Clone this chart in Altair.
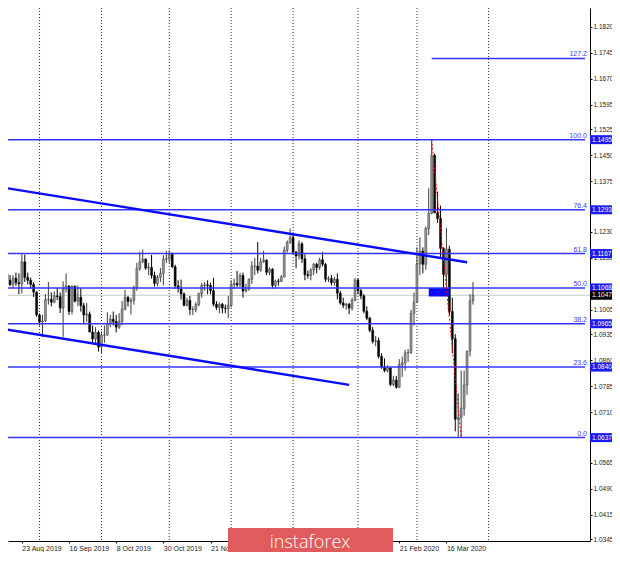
import altair as alt
import pandas as pd

# ---------------- data (EURUSD daily candles) ----------------
first_index = -6   # bar index of the first candle (0 = 23 Aug 2019)

opens = [1.1140, 1.1107, 1.1090, 1.1078, 1.1096, 1.1083,
         1.1080, 1.1143, 1.1098, 1.1090, 1.1078, 1.1056,
         1.0990, 1.0970, 1.0973, 1.1034, 1.1035,
         1.1027, 1.1045, 1.1043, 1.1010, 1.1065,
         1.1074, 1.1000, 1.1073, 1.1030, 1.1041,
         1.1017, 1.0990, 1.0993, 1.0941, 1.0921,
         1.0940, 1.0898, 1.0932, 1.0933, 1.0966,
         1.0978, 1.0971, 1.0955, 1.0972, 1.1007,
         1.1041, 1.1029, 1.1032, 1.1069, 1.1124,
         1.1143, 1.1151, 1.1125, 1.1127, 1.1104,
         1.1081, 1.1099, 1.1110, 1.1151, 1.1152,
         1.1165, 1.1129, 1.1074, 1.1066, 1.1051,
         1.1018, 1.1032, 1.1006, 1.1006, 1.1020,
         1.1051, 1.1075, 1.1077, 1.1075, 1.1060,
         1.1021, 1.1012, 1.1021, 1.1010, 1.1009,
         1.1018, 1.1078, 1.1081, 1.1077, 1.1104,
         1.1059, 1.1064, 1.1093, 1.1131, 1.1131,
         1.1119, 1.1143, 1.1148, 1.1113, 1.1122,
         1.1075, 1.1088, 1.1087, 1.1100, 1.1177,
         1.1199, 1.1213, 1.1171, 1.1160, 1.1195,
         1.1152, 1.1106, 1.1104, 1.1120, 1.1136,
         1.1127, 1.1149, 1.1136, 1.1093, 1.1095,
         1.1083, 1.1093, 1.1053, 1.1025, 1.1018,
         1.1021, 1.1010, 1.1032, 1.1091, 1.1060,
         1.1045, 1.1001, 1.0981, 1.0946, 1.0914,
         1.0916, 1.0871, 1.0840, 1.0830, 1.0838,
         1.0790, 1.0803, 1.0782, 1.0847, 1.0852,
         1.0881, 1.0882, 1.0995, 1.1027, 1.1137,
         1.1174, 1.1136, 1.1239, 1.1283, 1.1450,
         1.1284, 1.1268, 1.1182, 1.1107, 1.1180,
         1.1000, 1.0922, 1.0690, 1.0695, 1.0721,
         1.0789, 1.0886, 1.1031]

highs = [1.1150, 1.1115, 1.1105, 1.1105, 1.1112, 1.1110,
         1.1165, 1.1164, 1.1112, 1.1098, 1.1085, 1.1058,
         1.0995, 1.0990, 1.1050, 1.1085, 1.1055,
         1.1058, 1.1068, 1.1055, 1.1087, 1.1110,
         1.1074, 1.1075, 1.1075, 1.1075, 1.1068,
         1.1025, 1.1025, 1.1000, 1.0960, 1.0955,
         1.0945, 1.0943, 1.0960, 1.0998, 1.0990,
         1.1000, 1.0990, 1.0995, 1.1030, 1.1063,
         1.1045, 1.1040, 1.1075, 1.1140, 1.1172,
         1.1179, 1.1153, 1.1140, 1.1163, 1.1115,
         1.1105, 1.1125, 1.1162, 1.1175, 1.1176,
         1.1170, 1.1135, 1.1090, 1.1092, 1.1055,
         1.1040, 1.1045, 1.1015, 1.1027, 1.1055,
         1.1082, 1.1085, 1.1090, 1.1083, 1.1097,
         1.1030, 1.1026, 1.1025, 1.1020, 1.1045,
         1.1090, 1.1095, 1.1117, 1.1111, 1.1112,
         1.1080, 1.1095, 1.1145, 1.1155, 1.1200,
         1.1155, 1.1175, 1.1150, 1.1127, 1.1125,
         1.1092, 1.1095, 1.1105, 1.1187, 1.1205,
         1.1239, 1.1228, 1.1175, 1.1205, 1.1200,
         1.1165, 1.1118, 1.1125, 1.1140, 1.1140,
         1.1155, 1.1172, 1.1140, 1.1102, 1.1105,
         1.1100, 1.1110, 1.1060, 1.1040, 1.1025,
         1.1025, 1.1040, 1.1096, 1.1095, 1.1065,
         1.1050, 1.1015, 1.0985, 1.0955, 1.0930,
         1.0925, 1.0880, 1.0865, 1.0845, 1.0840,
         1.0815, 1.0815, 1.0863, 1.0870, 1.0890,
         1.0892, 1.1005, 1.1055, 1.1185, 1.1214,
         1.1185, 1.1245, 1.1355, 1.1495, 1.1455,
         1.1345, 1.1305, 1.1185, 1.1240, 1.1190,
         1.1040, 1.0935, 1.0765, 1.0830, 1.0830,
         1.0887, 1.1050, 1.1085]

lows = [1.1100, 1.1066, 1.1073, 1.1066, 1.1074, 1.1050,
        1.1052, 1.1085, 1.1078, 1.1065, 1.1042, 1.0985,
        1.0960, 1.0926, 1.0970, 1.1020, 1.1015,
        1.1024, 1.1033, 1.0996, 1.0927, 1.1055,
        1.0990, 1.0992, 1.1026, 1.1015, 1.1000,
        1.0965, 1.0970, 1.0940, 1.0910, 1.0905,
        1.0885, 1.0879, 1.0910, 1.0930, 1.0955,
        1.0960, 1.0940, 1.0950, 1.0960, 1.1003,
        1.1015, 1.0992, 1.1020, 1.1060, 1.1117,
        1.1140, 1.1120, 1.1105, 1.1095, 1.1072,
        1.1073, 1.1085, 1.1075, 1.1140, 1.1140,
        1.1125, 1.1065, 1.1055, 1.1035, 1.1015,
        1.1015, 1.0990, 1.0990, 1.0998, 1.1015,
        1.1040, 1.1060, 1.1050, 1.1050, 1.1015,
        1.1005, 1.0995, 1.0995, 1.0995, 1.0981,
        1.1012, 1.1065, 1.1070, 1.1070, 1.1040,
        1.1055, 1.1060, 1.1080, 1.1105, 1.1110,
        1.1115, 1.1140, 1.1105, 1.1105, 1.1066,
        1.1065, 1.1075, 1.1085, 1.1098, 1.1170,
        1.1195, 1.1165, 1.1125, 1.1150, 1.1140,
        1.1090, 1.1095, 1.1090, 1.1105, 1.1110,
        1.1120, 1.1130, 1.1085, 1.1085, 1.1075,
        1.1075, 1.1035, 1.1020, 1.1010, 1.1005,
        1.0992, 1.1003, 1.1030, 1.1050, 1.1035,
        1.0995, 1.0975, 1.0940, 1.0908, 1.0900,
        1.0865, 1.0835, 1.0825, 1.0825, 1.0785,
        1.0785, 1.0778, 1.0780, 1.0812, 1.0830,
        1.0855, 1.0878, 1.0960, 1.1025, 1.1105,
        1.1110, 1.1120, 1.1220, 1.1280, 1.1285,
        1.1255, 1.1155, 1.1055, 1.1055, 1.0990,
        1.0880, 1.0655, 1.0637, 1.0637, 1.0700,
        1.0760, 1.0871, 1.1020]

closes = [1.1107, 1.1090, 1.1078, 1.1096, 1.1083, 1.1080,
          1.1143, 1.1098, 1.1090, 1.1078, 1.1056, 1.0990,
          1.0970, 1.0973, 1.1034, 1.1035, 1.1027,
          1.1045, 1.1043, 1.1010, 1.1065, 1.1074,
          1.1000, 1.1073, 1.1030, 1.1041, 1.1017,
          1.0990, 1.0993, 1.0941, 1.0921, 1.0940,
          1.0898, 1.0932, 1.0933, 1.0966, 1.0978,
          1.0971, 1.0955, 1.0972, 1.1007, 1.1041,
          1.1029, 1.1032, 1.1069, 1.1124, 1.1143,
          1.1151, 1.1125, 1.1127, 1.1104, 1.1081,
          1.1099, 1.1110, 1.1151, 1.1152, 1.1165,
          1.1129, 1.1074, 1.1066, 1.1051, 1.1018,
          1.1032, 1.1006, 1.1006, 1.1020, 1.1051,
          1.1075, 1.1077, 1.1075, 1.1060, 1.1021,
          1.1012, 1.1021, 1.1010, 1.1009, 1.1018,
          1.1078, 1.1081, 1.1077, 1.1104, 1.1059,
          1.1064, 1.1093, 1.1131, 1.1131, 1.1119,
          1.1143, 1.1148, 1.1113, 1.1122, 1.1075,
          1.1088, 1.1087, 1.1100, 1.1177, 1.1199,
          1.1213, 1.1171, 1.1160, 1.1195, 1.1152,
          1.1106, 1.1104, 1.1120, 1.1136, 1.1127,
          1.1149, 1.1136, 1.1093, 1.1095, 1.1083,
          1.1093, 1.1053, 1.1025, 1.1018, 1.1021,
          1.1010, 1.1032, 1.1091, 1.1060, 1.1045,
          1.1001, 1.0981, 1.0946, 1.0914, 1.0916,
          1.0871, 1.0840, 1.0830, 1.0838, 1.0790,
          1.0803, 1.0782, 1.0847, 1.0852, 1.0881,
          1.0882, 1.0995, 1.1027, 1.1137, 1.1174,
          1.1136, 1.1239, 1.1283, 1.1450, 1.1284,
          1.1268, 1.1182, 1.1107, 1.1180, 1.1000,
          1.0922, 1.0690, 1.0695, 1.0721, 1.0789,
          1.0886, 1.1031, 1.1047]

# time axis (bar index -> label); the labels hidden under the logo are left out
date_tick_idx = [-16, 0, 16, 32, 48, 64, 128, 144]
date_tick_lbl = ["1 Aug 2019", "23 Aug 2019", "16 Sep 2019", "8 Oct 2019", "30 Oct 2019",
                 "21 Nov 2019", "21 Feb 2020", "16 Mar 2020"]
# dotted period separators (first bar of each month)
month_sep_idx = [6, 27, 50, 71, 92, 114, 134, 158.3]

# price axis (labels fully hidden by the level tags are left out)
price_ticks = [1.1820, 1.1745, 1.1670, 1.1595, 1.1525, 1.1450, 1.1375, 1.1230,
               1.1155, 1.1005, 1.0935, 1.0860, 1.0785, 1.0710, 1.0565,
               1.0490, 1.0415, 1.0345]

# Fibonacci grid
fib_pct = ["0.0", "23.6", "38.2", "50.0", "61.8", "76.4", "100.0", "127.2"]
fib_price = [1.0637, 1.0840, 1.0965, 1.1068, 1.1167, 1.1293, 1.1495, 1.1729]
fib_start = [-5.667, -5.667, -5.667, -5.667, -5.667, -5.667, -5.667, 139]

current_price = 1.1047

# channel lines (start idx, start price, end idx, end price)
chan_x1 = [-5.667, -5.667]
chan_y1 = [1.1356, 1.0949]
chan_x2 = [151, 111]
chan_y2 = [1.1142, 1.0789]

# fib base line (red dotted) and signal box
base_x = [139, 149]
base_y = [1.1495, 1.0637]
box_x = [138, 145]
box_y = [1.1068, 1.1043]

# ---------------- scales / layout ----------------
X_DOM = [-3.0, 191.0]
Y_DOM = [1.03393, 1.18741]
W, H = 582, 533
xs = alt.Scale(domain=X_DOM, nice=False, zero=False)
ys = alt.Scale(domain=Y_DOM, nice=False, zero=False)
FONT = "Liberation Sans"

n = len(opens)
candles = pd.DataFrame({
    "i": list(range(first_index, first_index + n)),
    "open": opens, "high": highs, "low": lows, "close": closes,
})
candles["dir"] = ["up" if c >= o else "down" for o, c in zip(opens, closes)]

date_expr = "".join(f"datum.value == {v} ? '{l}' : " for v, l in zip(date_tick_idx, date_tick_lbl)) + "''"

x_axis = alt.Axis(orient="bottom", values=date_tick_idx, labelExpr=date_expr, labelAlign="left",
                  labelBaseline="top", labelPadding=1, tickSize=2, tickColor="#000000",
                  domainColor="#000000", labelColor="#222222", labelFont=FONT, labelFontSize=7,
                  labelFlush=False, labelOverlap=False, grid=False, title="")
y_axis = alt.Axis(orient="right", values=price_ticks, format=".4f", labelAlign="left",
                  labelBaseline="middle", labelPadding=1, tickSize=2, tickColor="#000000",
                  domainColor="#000000", labelColor="#222222", labelFont=FONT, labelFontSize=6.5,
                  labelFlush=False, labelOverlap=False, grid=False, title="")


def X(field):
    return alt.X(field, type="quantitative", scale=xs, axis=x_axis)


def Y(field):
    return alt.Y(field, type="quantitative", scale=ys, axis=y_axis)


dir_scale_fill = alt.Scale(domain=["up", "down"], range=["#959595", "#000000"])
dir_scale_stroke = alt.Scale(domain=["up", "down"], range=["#3c3c3c", "#000000"])

# grid separators
grid = alt.Chart(pd.DataFrame({"i": month_sep_idx})).mark_rule(
    color="#2e2e2e", strokeDash=[1, 2], strokeWidth=1
).encode(x=X("i"))

# current price line
cur = alt.Chart(pd.DataFrame({"p": [current_price]})).mark_rule(
    color="#c8c8c8", strokeWidth=1
).encode(y=Y("p"))

wicks = alt.Chart(candles).mark_rule(strokeWidth=1).encode(
    x=X("i"), y=Y("low"), y2="high",
    stroke=alt.Stroke("dir:N", scale=dir_scale_stroke, legend=None),
)
bodies = alt.Chart(candles).mark_bar(size=2, strokeWidth=0.5).encode(
    x=X("i"), y=Y("open"), y2="close",
    fill=alt.Fill("dir:N", scale=dir_scale_fill, legend=None),
    stroke=alt.Stroke("dir:N", scale=dir_scale_stroke, legend=None),
)

box = alt.Chart(pd.DataFrame({"x1": [box_x[0]], "x2": [box_x[1]], "y1": [box_y[0]], "y2": [box_y[1]]})).mark_rect(
    color="#0a0af5"
).encode(x=X("x1"), x2="x2", y=Y("y1"), y2="y2")

fib_df = pd.DataFrame({"pct": fib_pct, "price": fib_price, "start": fib_start,
                       "end": [X_DOM[1]] * len(fib_price)})
fib_lines = alt.Chart(fib_df).mark_rule(color="#3636ff", strokeWidth=1.5, clip=True).encode(
    x=X("start"), x2="end", y=Y("price"),
)
fib_text = alt.Chart(fib_df).mark_text(
    align="right", baseline="bottom", dy=-1, color="#3a3aff", font=FONT, fontSize=7
).encode(x=alt.value(579), y=Y("price"), text="pct:N")

chan_df = pd.DataFrame({"x1": chan_x1, "y1": chan_y1, "x2": chan_x2, "y2": chan_y2})
chan = alt.Chart(chan_df).mark_rule(color="#0a0aff", strokeWidth=2.4, clip=True).encode(
    x=X("x1"), x2="x2", y=Y("y1"), y2="y2",
)

base = alt.Chart(pd.DataFrame({"x1": [base_x[0]], "y1": [base_y[0]], "x2": [base_x[1]], "y2": [base_y[1]]})).mark_rule(
    color="#ff0000", strokeDash=[2, 2], strokeWidth=1
).encode(x=X("x1"), x2="x2", y=Y("y1"), y2="y2")

# price labels on the right axis
fib_tags = pd.DataFrame({"p": fib_price[:7], "txt": [f"{v:.4f}" for v in fib_price[:7]]})
cur_tags = pd.DataFrame({"p": [current_price], "txt": [f"{current_price:.4f}"]})


def tag_layers(df, colour):
    rect = alt.Chart(df).mark_rect(yOffset=-4.5, y2Offset=4.5, color=colour).encode(
        x=alt.value(582), x2=alt.value(604), y=Y("p"), y2="p")
    txt = alt.Chart(df).mark_text(align="left", baseline="middle", color="#ffffff",
                                  font=FONT, fontSize=6.5).encode(
        x=alt.value(584), y=Y("p"), text="txt:N")
    return [rect, txt]


# watermark logo
logo_box = alt.Chart(pd.DataFrame({"a": [0]})).mark_rect(color="#e05c5c").encode(
    x=alt.value(220), x2=alt.value(385), y=alt.value(520), y2=alt.value(544))
logo_txt = alt.Chart(pd.DataFrame({"t": ["instaforex"]})).mark_text(
    align="center", baseline="alphabetic", color="#ffffff", font="Open Sans",
    fontSize=18, fontWeight=300
).encode(x=alt.value(302), y=alt.value(540), text="t:N")

chart = alt.layer(
    grid, cur, wicks, bodies, box, fib_lines, chan, base, fib_text,
    *tag_layers(fib_tags, "#1c1cf0"), *tag_layers(cur_tags, "#000000"),
    logo_box, logo_txt
).properties(
    width=W, height=H,
    autosize=alt.AutoSizeParams(type="none"),
    padding={"left": 0, "top": 0, "right": 22, "bottom": 11},
    background="#ffffff",
).configure_view(stroke="transparent")

chart.save("out.html", embed_options={"renderer": "svg", "actions": False})
